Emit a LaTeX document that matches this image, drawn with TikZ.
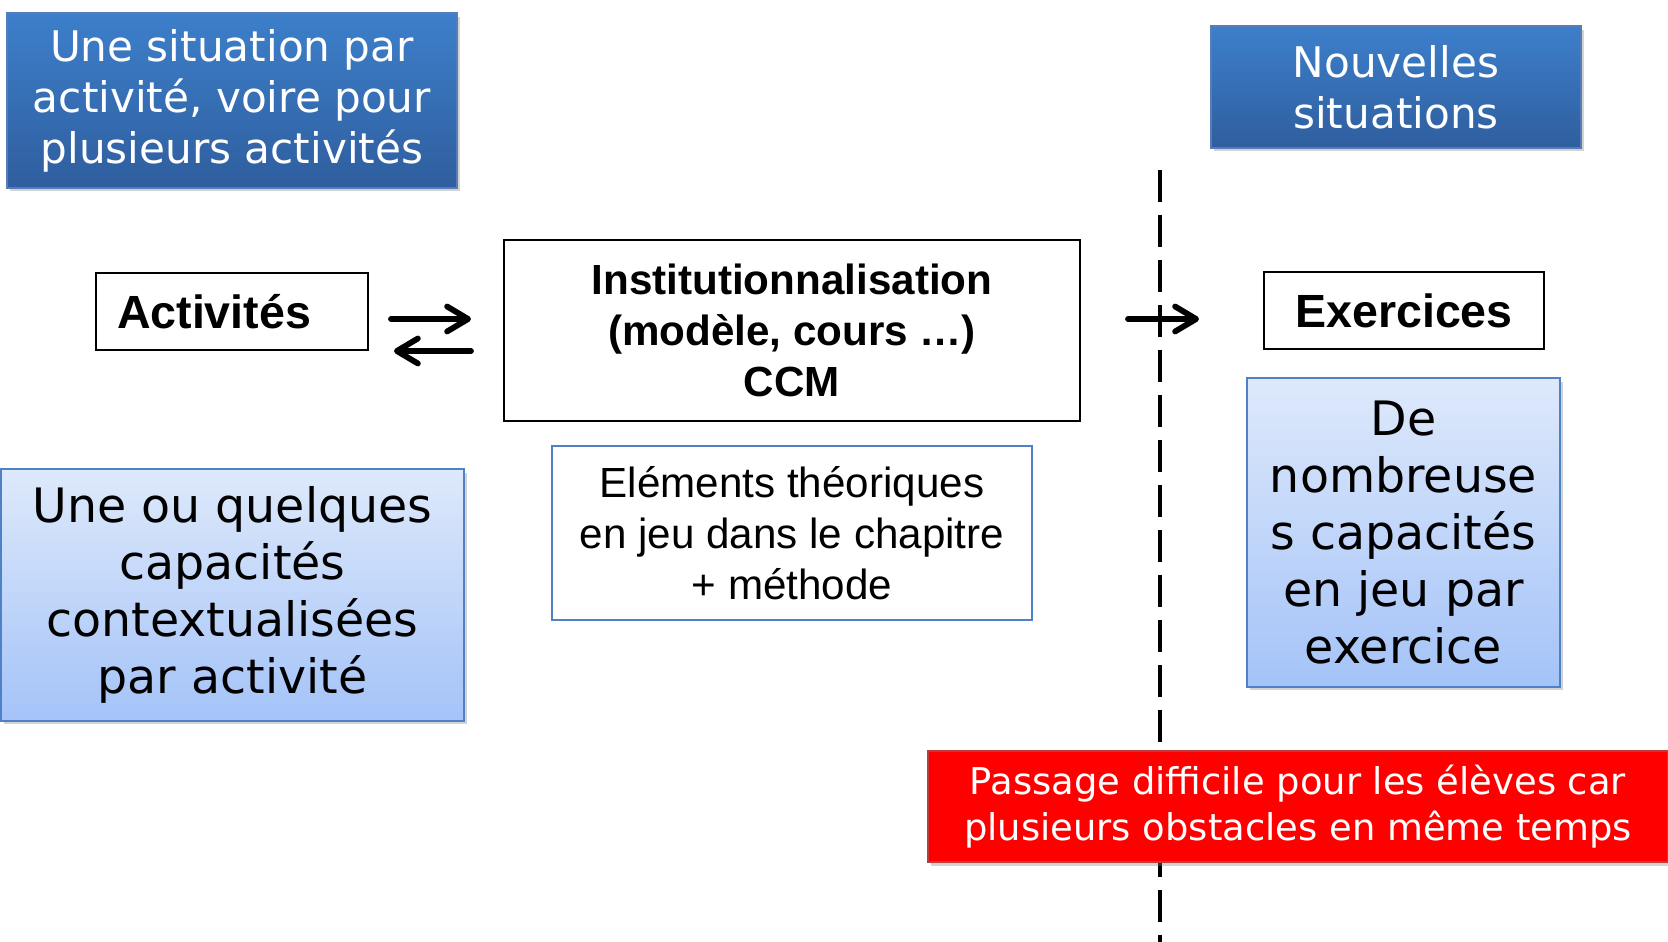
\documentclass[tikz,border=0pt]{standalone}
\usepackage{fontspec}
\usepackage{xcolor}
\usepackage{tikz}
\usetikzlibrary{
  positioning,
  calc,
  arrows.meta,
  shadows
}
\newfontfamily\verdfont{DejaVu Sans}
\newfontfamily\arialfont{Liberation Sans}
\definecolor{fonceHaut}{RGB}{61,127,203}
\definecolor{fonceBas}{RGB}{47,94,158}
\definecolor{fonceBord}{RGB}{85,125,185}
\definecolor{clairHaut}{RGB}{222,233,251}
\definecolor{clairBas}{RGB}{164,195,248}
\definecolor{clairBord}{RGB}{79,129,199}
\definecolor{rougeBord}{RGB}{190,60,60}

\tikzset{
  ombre/.style={drop shadow={opacity=0.35,shadow xshift=1.5pt,shadow yshift=-2pt}},
  fonce/.style={draw=fonceBord,line width=0.8pt,top color=fonceHaut,bottom color=fonceBas,
    text=white,align=center,inner sep=0pt,ombre,font=\verdfont\fontsize{24}{29}\selectfont},
  clair/.style={draw=clairBord,line width=1.2pt,top color=clairHaut,bottom color=clairBas,
    align=center,inner sep=0pt,ombre,font=\verdfont\fontsize{27}{32.5}\selectfont},
  cadre/.style={draw=black,line width=1.2pt,fill=white,align=center,inner sep=0pt,
    font=\arialfont\bfseries\fontsize{24}{29}\selectfont},
  fleche/.style={line width=3.3pt,line cap=round,-{Straight Barb[round,length=0.42cm,width=0.5cm]}}
}

\begin{document}
\begin{tikzpicture}[x=0.02cm,y=-0.02cm]
  \useasboundingbox (0,0) rectangle (1668,942);

  % 縦の破線
  \coordinate (haut) at (1160,170);
  \coordinate (bas) at (1160,942);
  \draw[line width=2.3pt,dash pattern=on 0.64cm off 0.26cm] (haut) -- (bas);

  % 上の見出し
  \node[fonce,minimum width=9cm,minimum height=3.5cm] (sit) at (232,100.5)
    {Une situation par\\activité, voire pour\\plusieurs activités};
  \node[fonce,minimum width=7.4cm,minimum height=2.44cm] (nouv) at (1396,87)
    {Nouvelles\\situations};

  % 中央の枠
  \node[cadre,minimum height=1.54cm,text width=4.6cm,inner xsep=0.42cm,align=left,
    font=\arialfont\bfseries\fontsize{26.5}{30}\selectfont] (act) at (232,311.5) {Activités};
  \node[cadre,minimum width=11.52cm,minimum height=3.62cm] (inst) at (792,330.5)
    {Institutionnalisation\\(modèle, cours \dots)\\CCM};
  \node[cadre,minimum width=5.6cm,minimum height=1.54cm,
    font=\arialfont\bfseries\fontsize{26.5}{30}\selectfont] (exo) at (1404,310.5) {Exercices};
  \node[draw=clairBord,line width=1.1pt,fill=white,align=center,inner sep=0pt,
    minimum width=9.6cm,minimum height=3.48cm,font=\arialfont\fontsize{24}{29}\selectfont]
    (elem) at (792,533) {Eléments théoriques\\en jeu dans le chapitre\\+ méthode};

  % 矢印
  \coordinate (a1) at (391,319);  \coordinate (b1) at (471,319);
  \coordinate (a2) at (471,351);  \coordinate (b2) at (394,351);
  \coordinate (a3) at (1128,319); \coordinate (b3) at (1199,319);
  \draw[fleche] (a1) -- (b1);
  \draw[fleche] (a2) -- (b2);
  \draw[fleche] (a3) -- (b3);

  % 下の説明
  \node[clair,minimum width=9.26cm,minimum height=5.04cm] (capa) at (232.5,595)
    {Une ou quelques\\capacités\\contextualisées\\par activité};
  \node[clair,minimum width=6.26cm,minimum height=6.18cm] (nomb) at (1403.5,532.5)
    {De\\nombreuse\\s capacités\\en jeu par\\exercice};

  % 赤い枠
  \node[draw=rougeBord,line width=0.8pt,fill=red,text=white,align=center,inner sep=0pt,ombre,
    minimum width=14.8cm,minimum height=2.22cm,font=\verdfont\fontsize{21}{26}\selectfont]
    (passage) at (1298,806.5)
    {Passage difficile pour les élèves car\\plusieurs obstacles en même temps};
\end{tikzpicture}
\end{document}
